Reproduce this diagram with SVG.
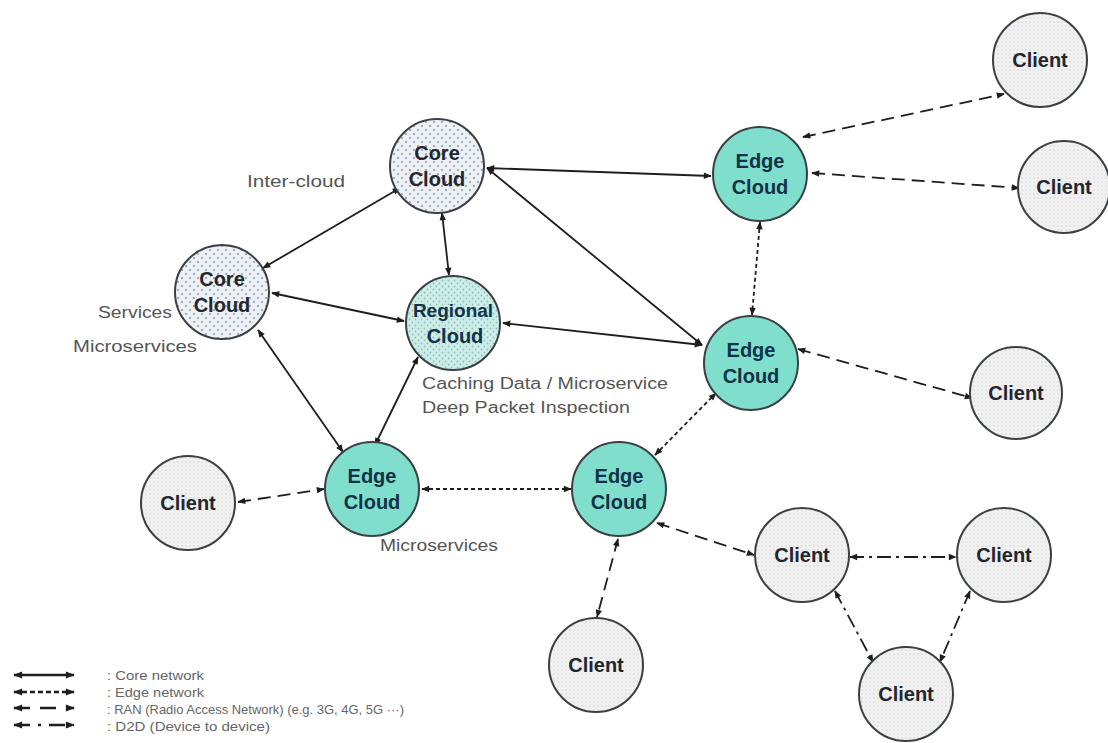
<svg xmlns="http://www.w3.org/2000/svg" width="1108" height="743" viewBox="0 0 1108 743">
<style>
.node{stroke:#3b4045;stroke-width:2}
.core{fill:url(#pCore)}
.reg{fill:url(#pReg)}
.edge{fill:#7fdfcc}
.client{fill:url(#pClient)}
.nt{font-family:"Liberation Sans",Arial,sans-serif;font-weight:bold;font-size:20px;text-anchor:middle;fill:#24262e}
.et{fill:#123248}
.lbl{font-family:"Liberation Sans",Arial,sans-serif;font-size:16px;fill:#555}
.lg{font-family:"Liberation Sans",Arial,sans-serif;font-size:13.5px;fill:#666}
.cn{fill:none;stroke:#1e1e1e;stroke-width:1.8;marker-start:url(#ah);marker-end:url(#ah)}
.lgl{fill:none;stroke:#1e1e1e;stroke-width:2.4;marker-start:url(#ahl);marker-end:url(#ahl)}
.edge-l{stroke-dasharray:4 3}
.ran-l{stroke-dasharray:13 7}
.d2d-l{stroke-dasharray:14 5 3 5}
</style>
<defs>
<pattern id="pCore" width="8" height="8" patternUnits="userSpaceOnUse">
<rect width="8" height="8" fill="#edf1f5"/>
<circle cx="2" cy="2" r="1.1" fill="#8c9cab"/>
<circle cx="6" cy="6" r="1.1" fill="#8c9cab"/>
</pattern>
<pattern id="pReg" width="6" height="6" patternUnits="userSpaceOnUse">
<rect width="6" height="6" fill="#cdeee8"/>
<circle cx="1.5" cy="1.5" r="0.9" fill="#8fbfba"/>
<circle cx="4.5" cy="4.5" r="0.9" fill="#8fbfba"/>
</pattern>
<pattern id="pClient" width="4" height="4" patternUnits="userSpaceOnUse">
<rect width="4" height="4" fill="#f1f1f1"/>
<circle cx="2" cy="2" r="0.7" fill="#cfcfcf"/>
</pattern>
<marker id="ah" viewBox="0 0 10 10" refX="9" refY="5" markerWidth="9" markerHeight="8" markerUnits="userSpaceOnUse" orient="auto-start-reverse">
<path d="M0,1 L10,5 L0,9 Z" fill="#1e1e1e"/>
</marker>
<marker id="ahl" viewBox="0 0 10 10" refX="9" refY="5" markerWidth="11" markerHeight="9" markerUnits="userSpaceOnUse" orient="auto-start-reverse">
<path d="M0,1 L10,5 L0,9 Z" fill="#1e1e1e"/>
</marker>
</defs>
<rect width="1108" height="743" fill="#ffffff"/>

<g id="connectors">
<line class="cn" x1="400" y1="188" x2="263" y2="268"/>
<line class="cn" x1="442" y1="213" x2="449" y2="275"/>
<line class="cn" x1="487" y1="168" x2="711" y2="176"/>
<line class="cn" x1="487" y1="168" x2="702" y2="345"/>
<line class="cn" x1="272" y1="293" x2="404" y2="321"/>
<line class="cn" x1="702" y1="345" x2="503" y2="323"/>
<line class="cn" x1="258" y1="330" x2="343" y2="452"/>
<line class="cn" x1="418" y1="357" x2="375" y2="445"/>
<line class="cn edge-l" x1="760" y1="222" x2="752" y2="315"/>
<line class="cn edge-l" x1="655" y1="455" x2="716" y2="393"/>
<line class="cn edge-l" x1="422" y1="489" x2="571" y2="489"/>
<line class="cn ran-l" x1="803" y1="137" x2="1004" y2="94"/>
<line class="cn ran-l" x1="812" y1="173" x2="1019" y2="188"/>
<line class="cn ran-l" x1="798" y1="349" x2="972" y2="398"/>
<line class="cn ran-l" x1="238" y1="502" x2="324" y2="489"/>
<line class="cn ran-l" x1="618" y1="539" x2="597" y2="617"/>
<line class="cn ran-l" x1="657" y1="523" x2="754" y2="555"/>
<line class="cn d2d-l" x1="850" y1="557" x2="956" y2="557"/>
<line class="cn d2d-l" x1="835" y1="591" x2="873" y2="662"/>
<line class="cn d2d-l" x1="970" y1="591" x2="940" y2="662"/>
</g>

<g id="core-cloud-top"><circle class="node core" cx="437" cy="166" r="47"/><text class="nt" x="437" y="160">Core</text><text class="nt" x="437" y="186">Cloud</text></g>
<g id="core-cloud-left"><circle class="node core" cx="222" cy="292" r="47"/><text class="nt" x="222" y="286">Core</text><text class="nt" x="222" y="312">Cloud</text></g>
<g id="regional-cloud"><circle class="node reg" cx="453" cy="323" r="47"/><text class="nt et" x="453" y="317" style="font-size:19px">Regional</text><text class="nt et" x="455" y="343">Cloud</text></g>
<g id="edge-cloud-top"><circle class="node edge" cx="760" cy="174" r="47"/><text class="nt et" x="760" y="168">Edge</text><text class="nt et" x="760" y="194">Cloud</text></g>
<g id="edge-cloud-mid"><circle class="node edge" cx="751" cy="363" r="47"/><text class="nt et" x="751" y="357">Edge</text><text class="nt et" x="751" y="383">Cloud</text></g>
<g id="edge-cloud-bl"><circle class="node edge" cx="372" cy="489" r="47"/><text class="nt et" x="372" y="483">Edge</text><text class="nt et" x="372" y="509">Cloud</text></g>
<g id="edge-cloud-bm"><circle class="node edge" cx="619" cy="489" r="47"/><text class="nt et" x="619" y="483">Edge</text><text class="nt et" x="619" y="509">Cloud</text></g>

<g id="client-1"><circle class="node client" cx="1040" cy="60" r="47"/><text class="nt" x="1040" y="67">Client</text></g>
<g id="client-2"><circle class="node client" cx="1064" cy="187" r="46"/><text class="nt" x="1064" y="194">Client</text></g>
<g id="client-3"><circle class="node client" cx="1016" cy="393" r="46"/><text class="nt" x="1016" y="400">Client</text></g>
<g id="client-4"><circle class="node client" cx="188" cy="503" r="47"/><text class="nt" x="188" y="510">Client</text></g>
<g id="client-5"><circle class="node client" cx="802" cy="555" r="47"/><text class="nt" x="802" y="562">Client</text></g>
<g id="client-6"><circle class="node client" cx="1004" cy="555" r="47"/><text class="nt" x="1004" y="562">Client</text></g>
<g id="client-7"><circle class="node client" cx="906" cy="694" r="47"/><text class="nt" x="906" y="701">Client</text></g>
<g id="client-8"><circle class="node client" cx="596" cy="665" r="47"/><text class="nt" x="596" y="672">Client</text></g>

<g id="labels">
<text class="lbl" x="247" y="187" textLength="98" lengthAdjust="spacingAndGlyphs">Inter-cloud</text>
<text class="lbl" x="98" y="318" textLength="74" lengthAdjust="spacingAndGlyphs">Services</text>
<text class="lbl" x="73" y="352" textLength="124" lengthAdjust="spacingAndGlyphs">Microservices</text>
<text class="lbl" x="422" y="389" textLength="246" lengthAdjust="spacingAndGlyphs">Caching Data / Microservice</text>
<text class="lbl" x="422" y="413" textLength="208" lengthAdjust="spacingAndGlyphs">Deep Packet Inspection</text>
<text class="lbl" x="380" y="551" textLength="118" lengthAdjust="spacingAndGlyphs">Microservices</text>
</g>

<g id="legend">
<line class="lgl" x1="14" y1="675" x2="74" y2="675"/>
<line class="lgl" style="stroke-dasharray:5 3" x1="14" y1="692" x2="74" y2="692"/>
<line class="lgl" style="stroke-dasharray:16 10" x1="14" y1="708" x2="74" y2="708"/>
<line class="lgl" style="stroke-dasharray:16 8 3 8" x1="14" y1="725" x2="74" y2="725"/>
<text class="lg" x="107" y="680" textLength="97" lengthAdjust="spacingAndGlyphs">: Core network</text>
<text class="lg" x="107" y="697" textLength="97" lengthAdjust="spacingAndGlyphs">: Edge network</text>
<text class="lg" x="107" y="714" textLength="297" lengthAdjust="spacingAndGlyphs">: RAN (Radio Access Network) (e.g. 3G, 4G, 5G ···)</text>
<text class="lg" x="107" y="731" textLength="163" lengthAdjust="spacingAndGlyphs">: D2D (Device to device)</text>
</g>
</svg>
